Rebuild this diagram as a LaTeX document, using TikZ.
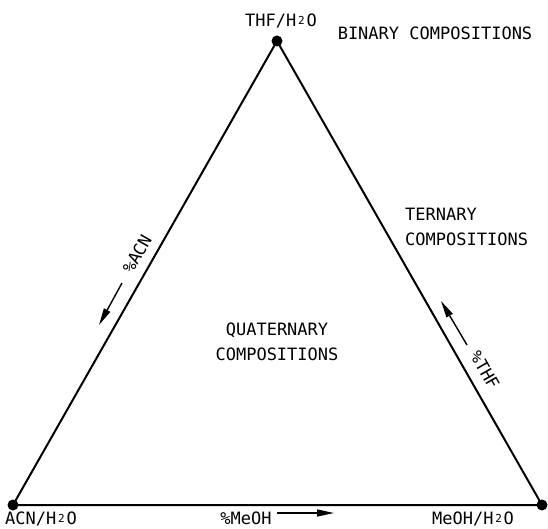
\documentclass[tikz,border=0pt]{standalone}
\usepackage{fontspec}
\setmainfont{DejaVu Sans Mono}
\usepackage{tikz}
\usetikzlibrary{arrows.meta}

% kleine 2 in einer Zeichenzelle
\newcommand{\twosub}{\makebox[0.6em]{\raisebox{0.2ex}{\fontsize{11}{11}\selectfont 2}}}

\begin{document}
\begin{tikzpicture}[x=1pt, y=1pt,
    lbl/.style={font=\fontsize{17}{25}\selectfont, inner sep=0pt},
    vtx/.style={circle, fill=black, minimum size=11pt, inner sep=0pt},
    dirarrow/.style={line width=1.4pt, -{Triangle[length=17pt, width=7pt]}}]
            \useasboundingbox (0,0) rectangle (548,528);

            % Ecken des Dreiecks
            \node[vtx] (thf) at (277,487) {};
            \node[vtx] (acn) at (13,23) {};
            \node[vtx] (meoh) at (542,23) {};
            \draw[line width=2pt, line join=round] (thf.center) -- (acn.center) -- (meoh.center) -- cycle;

            % Beschriftung der Ecken
            \node[lbl] (thflbl) at (281,507) {THF/H\twosub O};
            \node[lbl, anchor=base] (acnlbl) at (41,4) {ACN/H\twosub O};
            \node[lbl, anchor=base] (meohlbl) at (473,4) {MeOH/H\twosub O};

            % Bereiche
            \node[lbl] (binary) at (435,495) {BINARY COMPOSITIONS};
            \node[lbl, anchor=west, align=left] (ternary) at (405,301) {TERNARY\\COMPOSITIONS};
            \node[lbl, align=center] (quaternary) at (277,186) {QUATERNARY\\COMPOSITIONS};

            % Richtungen
            \node[lbl, rotate=60.4] (pacn) at (137,274) {\%ACN};
            \node[lbl, rotate=-60.3] (pthf) at (485,158) {\%THF};
            \node[lbl, anchor=base] (pmeoh) at (246,4) {\%MeOH};

            \coordinate (acnfrom) at (122,245);
            \coordinate (acnto) at (99,203);
            \coordinate (thffrom) at (467,183);
            \coordinate (thfto) at (441,227);
            \coordinate (meohfrom) at (277,15);
            \coordinate (meohto) at (334,15);
            \draw[dirarrow] (acnfrom) -- (acnto);
            \draw[dirarrow] (thffrom) -- (thfto);
            \draw[dirarrow] (meohfrom) -- (meohto);
        \end{tikzpicture}
\end{document}
